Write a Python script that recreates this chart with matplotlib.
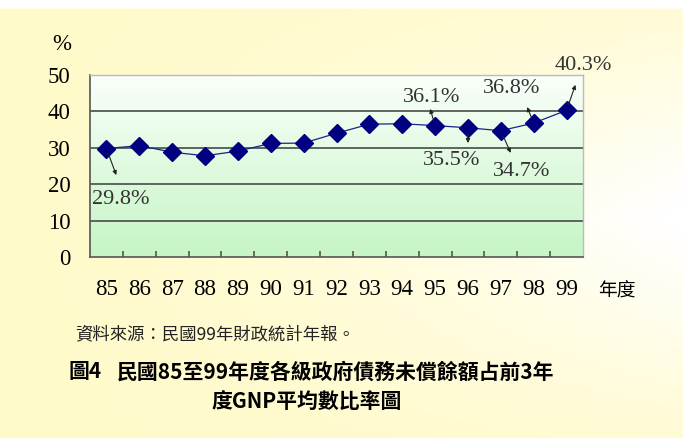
import numpy as np
import matplotlib
matplotlib.use('Agg')
from matplotlib import pyplot as plt

# data
years = ['85', '86', '87', '88', '89', '90', '91', '92', '93', '94', '95', '96', '97', '98', '99']
ratio = [29.8, 30.6, 28.8, 27.8, 29.1, 31.2, 31.3, 34.0, 36.5, 36.6, 36.1, 35.5, 34.7, 36.8, 40.3]
labelled = [0, 10, 11, 12, 13, 14]   # points that carry a value label

serif = ['Liberation Serif', 'DejaVu Serif']
cjk = ['Noto Sans CJK TC', 'DejaVu Sans']

fig = plt.figure(figsize=(6.83, 4.38), dpi=100)

# page background: pale yellow, washing to white on the right
bg = fig.add_axes([0, 0, 1, 1], zorder=-10)
yy, xx = np.mgrid[0:1:200j, 0:1:300j]
w = np.clip(0.1 + 0.95 * xx**1.5 * (1 - np.abs(yy - 0.5) * 1.6), 0, 1)
yellow = np.array([255, 250, 196]) / 255.0
img = yellow[None, None, :] * (1 - w[..., None]) + w[..., None]
img[:4, :, :] = 1.0
bg.imshow(img, extent=[0, 1, 0, 1], aspect='auto', origin='upper')
bg.axis('off')

ax = fig.add_axes([90 / 683, 1 - 257 / 438, 493 / 683, 182 / 438])
ax.patch.set_alpha(0)
x = np.arange(len(years))

# green plot-area gradient
g = np.linspace(0, 1, 100)[:, None] * np.ones((1, 50))
bottom = np.array([198, 245, 198]) / 255.0
top = np.array([250, 255, 250]) / 255.0
grad = bottom[None, None, :] * (1 - g[..., None]) + top[None, None, :] * g[..., None]
ax.imshow(grad, extent=[-0.5, len(years) - 0.5, 0, 50], aspect='auto', origin='lower', zorder=0)

ax.set_xlim(-0.5, len(years) - 0.5)
ax.set_ylim(0, 50)
for yv in [10, 20, 30, 40]:
    ax.axhline(yv, color='#4a4a4a', lw=1.2, zorder=1)

ax.plot(x, ratio, color='#20208a', lw=0.9, marker='D', markersize=9,
        markerfacecolor='#000080', markeredgecolor='#000080', zorder=3)

# value labels with little arrows (text position, arrow tip)
label_pos = {0: (0.43, 15.7), 10: (9.89, 43.7), 11: (10.5, 26.6),
             12: (12.63, 23.4), 13: (12.32, 46.4), 14: (14.51, 52.7)}
tip_pos = {0: (0.3, 22.5), 10: (9.85, 40.7), 11: (11.0, 31.3),
           12: (12.3, 28.6), 13: (12.8, 41.2), 14: (14.27, 47.3)}
for i in labelled:
    ax.annotate('', xy=tip_pos[i], xytext=(x[i], ratio[i]),
                arrowprops=dict(arrowstyle='-|>', color='#222222', lw=0.8,
                                mutation_scale=6, shrinkA=4, shrinkB=0),
                annotation_clip=False, zorder=4)
    ax.text(label_pos[i][0], label_pos[i][1], '%.1f%%' % ratio[i], family=serif,
            fontsize=16, color='#333333', ha='center', va='center', clip_on=False, zorder=5)

# axes frame and ticks
for s in ['left', 'bottom']:
    ax.spines[s].set_color('#555555')
    ax.spines[s].set_linewidth(1.2)
for s in ['top', 'right']:
    ax.spines[s].set_color('#bbbbbb')
    ax.spines[s].set_linewidth(1.0)
ax.set_xticks(x)
ax.set_xticklabels(years, family=serif, fontsize=16.5)
ax.set_xticks(np.arange(0.5, len(years) - 1, 1), minor=True)
ax.tick_params(axis='x', which='major', length=0, pad=16)
ax.tick_params(axis='x', which='minor', direction='in', length=4, width=1.2, color='#555555')
ax.set_yticks([0, 10, 20, 30, 40, 50])
ax.set_yticklabels(['0', '10', '20', '30', '40', '50'], family=serif, fontsize=16.5)
ax.tick_params(axis='y', length=0, pad=14)

fig.text(62 / 683, 1 - 45 / 438, '%', family=serif, fontsize=16.5, ha='center', va='center')
fig.text(617 / 683, 1 - 291 / 438, '年度', family=cjk, fontsize=13.5, ha='center', va='center')

fig.text(75 / 683, 1 - 335 / 438, '資料來源：民國99年財政統計年報。', family=cjk,
         fontsize=12.5, ha='left', va='center', color='#222222')
fig.text(68 / 683, 1 - 372 / 438, '圖4', family=cjk, fontsize=15, fontweight='bold',
         ha='left', va='center')
fig.text(117 / 683, 1 - 372 / 438, '民國85至99年度各級政府債務未償餘額占前3年', family=cjk,
         fontsize=15, fontweight='bold', ha='left', va='center')
fig.text(307 / 683, 1 - 402 / 438, '度GNP平均數比率圖', family=cjk, fontsize=15,
         fontweight='bold', ha='center', va='center')

fig.savefig('out.png', dpi=100)
